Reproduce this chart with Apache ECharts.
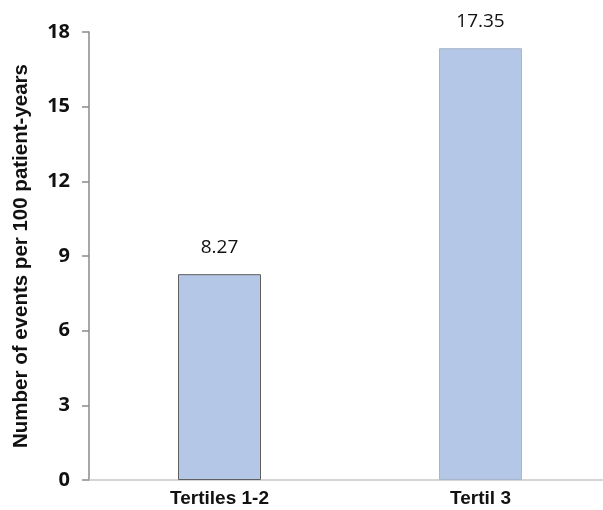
<!DOCTYPE html>
<html>
<head>
<meta charset="utf-8">
<script src="https://cdn.jsdelivr.net/npm/echarts@6/dist/echarts.min.js"></script>
<style>
  html, body { margin: 0; padding: 0; background: #fff; overflow: hidden; }
  #chart { width: 611px; height: 510px; }
</style>
</head>
<body>
<div id="chart"></div>
<script>
// Event rates by tertile group
const categories = ['Tertiles 1-2', 'Tertil 3'];
const eventRates = [8.27, 17.35];
const yTicks = { min: 0, max: 18, interval: 3 };
const yTitle = 'Number of events per 100 patient-years';

const barBorders = ['#5f5f5f', '#a8b6cc'];

const chart = echarts.init(document.getElementById('chart'));
chart.setOption({
  animation: false,
  grid: { left: 89, top: 32, right: 0, bottom: 30, containLabel: false },
  xAxis: {
    type: 'category',
    data: categories,
    axisLine: { show: true, lineStyle: { color: '#c8c8c8', width: 1.5 } },
    axisTick: { show: false },
    axisLabel: {
      color: '#111', fontFamily: 'Liberation Sans, Arial', fontWeight: 'bold',
      fontSize: 19, margin: 9
    }
  },
  yAxis: {
    type: 'value',
    min: yTicks.min, max: yTicks.max, interval: yTicks.interval,
    name: yTitle,
    nameLocation: 'middle',
    nameGap: 57,
    nameTextStyle: {
      color: '#111', fontFamily: 'Liberation Sans, Arial', fontWeight: 'bold', fontSize: 20.5
    },
    axisLine: { show: true, lineStyle: { color: '#8a8a8a', width: 1.5 } },
    axisTick: { show: true, length: 7, lineStyle: { color: '#8a8a8a', width: 1.5 } },
    splitLine: { show: false },
    axisLabel: {
      color: '#111', fontFamily: 'Open Sans, Lato, sans-serif', fontWeight: 'bold',
      fontSize: 20, margin: 19
    }
  },
  series: [{
    type: 'bar',
    barWidth: 83,
    data: eventRates.map((v, i) => ({
      value: v,
      itemStyle: { color: '#b4c7e7', borderColor: barBorders[i], borderWidth: 1 }
    })),
    label: {
      show: true, position: 'top', distance: 17,
      color: '#111', fontFamily: 'Open Sans, Lato, sans-serif', fontSize: 19,
      formatter: p => p.value.toFixed(2)
    }
  }]
});
</script>
</body>
</html>
